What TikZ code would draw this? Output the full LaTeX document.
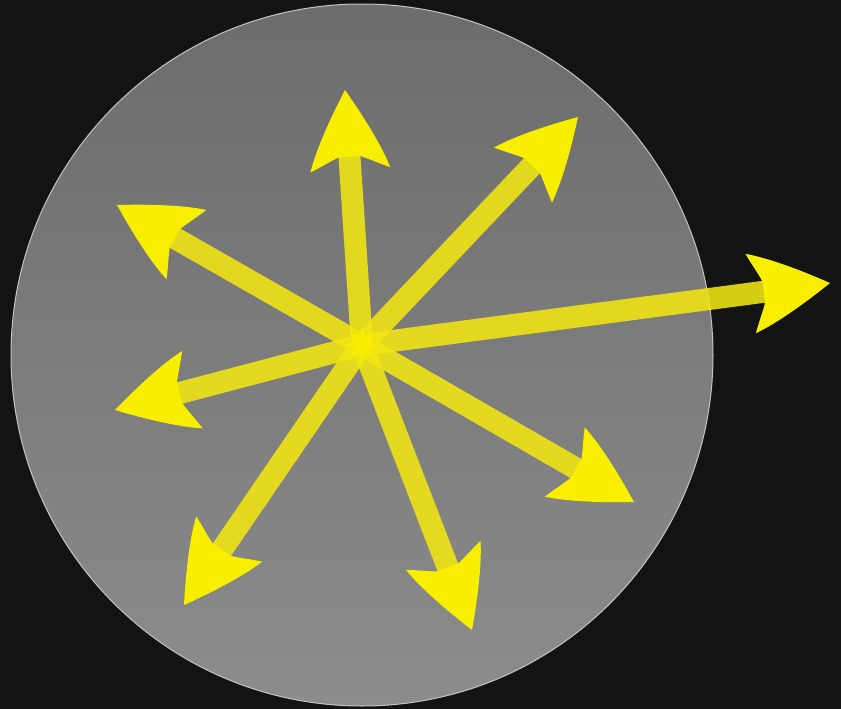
\documentclass[tikz,border=0pt]{standalone}
\usetikzlibrary{calc,shapes.geometric}
\definecolor{bg}{HTML}{131313}
\definecolor{disktop}{HTML}{6C6C6C}
\definecolor{diskbot}{HTML}{8C8C8C}
\definecolor{diskedge}{HTML}{C4C4C4}
\definecolor{ylw}{HTML}{F7EE00}
\definecolor{shaftc}{HTML}{F2E612}
\tikzset{
  shaftline/.style={draw=shaftc, line width=22pt, line cap=butt, draw opacity=0.88},
  headfill/.style={fill=ylw},
}
\newcommand\myarrow[1]{%
  \draw[shaftline] (c) -- ($(#1)!64pt!(c)$);
  \path let \p1=($(#1)-(c)$), \n1={atan2(\y1,\x1)} in \pgfextra{\xdef\myang{\n1}};
  \fill[headfill, shift={(#1)}, rotate=\myang]
    (0,0) .. controls (-28,17) and (-58,33) .. (-80,40)
    .. controls (-75,28) and (-70,19) .. (-67,11)
    -- (-67,-11)
    .. controls (-70,-19) and (-75,-28) .. (-80,-40)
    .. controls (-58,-33) and (-28,-17) .. (0,0) -- cycle;
}
\begin{document}
\begin{tikzpicture}[x=1pt,y=-1pt]
\fill[bg] (0,0) rectangle (841,709);
\useasboundingbox (0,0) rectangle (841,709);
\shade[top color=disktop, bottom color=diskbot] (362,355) circle (351pt);
\draw[diskedge, line width=1pt] (362,355) circle (351pt);
\coordinate (c) at (362,345);
\coordinate (up) at (345,90);
\coordinate (ur) at (578,117);
\coordinate (r) at (830,283);
\coordinate (lr) at (634,502);
\coordinate (d) at (472,630);
\coordinate (dl) at (184,605);
\coordinate (l) at (115,410);
\coordinate (ul) at (117,205);
\myarrow{up}
\myarrow{ur}
\myarrow{r}
\myarrow{lr}
\myarrow{d}
\myarrow{dl}
\myarrow{l}
\myarrow{ul}
\node[star, star points=8, star point ratio=2, fill=ylw, minimum size=34pt, inner sep=0pt] (ctr) at (c) {};
\end{tikzpicture}
\end{document}
